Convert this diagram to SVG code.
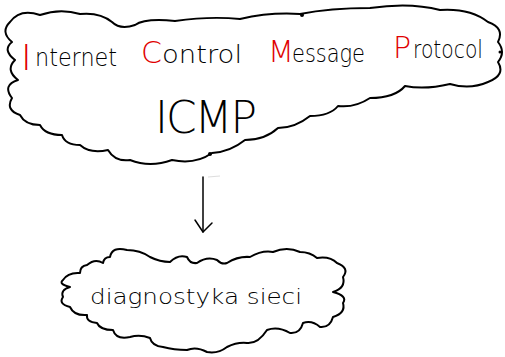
<svg xmlns="http://www.w3.org/2000/svg" width="505" height="357" viewBox="0 0 505 357">
<style>
.cloud{fill:#fff;stroke:#000;stroke-width:2;stroke-linejoin:round;stroke-linecap:round}
.thin{font-family:"DejaVu Sans","Liberation Sans",sans-serif;font-weight:200;fill:#000}
.r{fill:#e00000;font-size:30px}
.lw{font-size:24px}
.conn{stroke:#000;stroke-width:1.5;fill:none;stroke-linecap:round;stroke-linejoin:round}
</style>
<rect width="505" height="357" fill="#fff"/>
<g id="icmp">
<path class="cloud" d="M10 22 Q20 8 40 15 Q60 8 80 14 Q100 12 112 22 Q120 30 135 25 Q145 18 175 21 Q210 16 240 19 Q270 12 300 14 Q330 8 370 8 Q410 2 440 10 Q470 8 488 22 Q505 28 498 42 Q506 52 498 62 Q506 75 488 82 Q470 90 450 84 Q425 90 405 86 Q395 98 370 98 Q355 108 338 106 Q330 116 310 116 Q295 128 278 128 Q265 140 245 140 Q230 152 212 153 Q195 165 172 160 Q150 168 130 160 Q115 162 108 150 Q90 154 80 145 Q65 145 62 135 Q45 135 40 125 Q25 125 20 115 Q5 110 12 98 Q2 85 18 80 Q5 70 15 60 Q2 50 12 42 Q0 32 10 22 Z"/>
<circle cx="302" cy="15" r="2"/>
<circle cx="210" cy="154" r="2"/>
<circle cx="500" cy="52" r="1.5"/>
<text class="thin r" x="21" y="70" style="font-size:36px">I</text>
<text class="thin lw" x="35" y="66" textLength="82" lengthAdjust="spacingAndGlyphs">nternet</text>
<text class="thin r" x="141" y="63">C</text>
<text class="thin lw" x="162" y="63" textLength="80" lengthAdjust="spacingAndGlyphs">ontrol</text>
<text class="thin r" x="268" y="62">M</text>
<text class="thin lw" x="292" y="62" textLength="73" lengthAdjust="spacingAndGlyphs">essage</text>
<text class="thin r" x="393" y="58">P</text>
<text class="thin lw" x="413" y="58" textLength="70" lengthAdjust="spacingAndGlyphs">rotocol</text>
<text class="thin" x="155" y="133" font-size="44" textLength="102" lengthAdjust="spacing">ICMP</text>
</g>
<g id="connectors">
<line class="conn" x1="203" y1="177" x2="203" y2="232"/>
<polyline class="conn" points="195,220 203,232 212,223"/>
<line x1="208" y1="177" x2="220" y2="176" stroke="#ddd" stroke-width="1"/>
</g>
<g id="diag">
<path class="cloud" d="M110 257 Q112 246 127 250 Q140 250 150 257 Q160 262 170 262 Q178 254 187 257 Q190 264 197 263 Q207 256 217 260 Q222 265 227 263 Q238 256 250 257 Q262 250 273 252 Q287 246 300 252 Q310 252 317 258 Q330 256 337 263 Q350 268 343 277 Q346 288 333 292 Q348 296 343 303 Q346 313 333 317 Q330 328 320 327 Q312 320 303 323 Q300 334 290 333 Q278 326 267 330 Q258 344 247 343 Q237 342 227 347 Q218 354 207 352 Q196 346 187 350 Q174 350 163 347 Q152 346 150 338 Q140 334 130 337 Q116 340 113 330 Q100 330 97 323 Q86 322 87 315 Q74 316 70 307 Q58 304 63 297 Q60 290 70 287 Q58 284 63 280 Q68 272 80 273 Q80 266 87 265 Q95 258 103 263 Q104 257 110 257 Z"/>
<text class="thin" x="90" y="304" font-size="22" textLength="212" lengthAdjust="spacingAndGlyphs">diagnostyka sieci</text>
</g>
</svg>
